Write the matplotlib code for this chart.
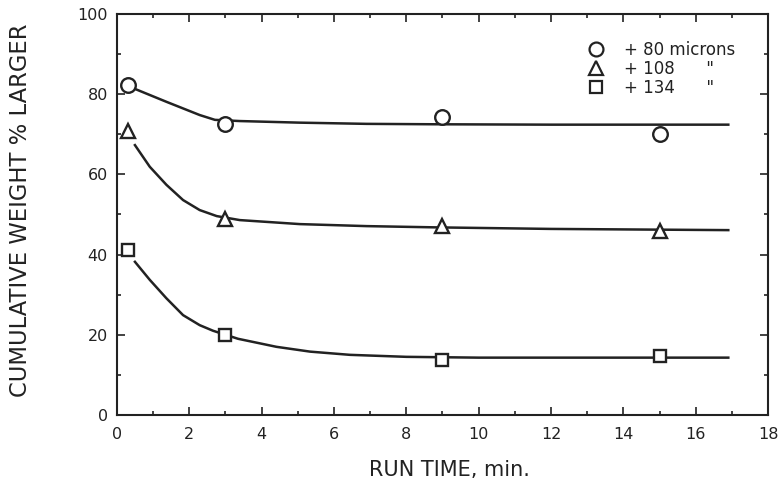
import numpy as np
import matplotlib.pyplot as plt
from matplotlib.lines import Line2D

plt.rcParams['font.family'] = ['DejaVu Sans']

# measured points (run time in min, cumulative weight % larger)
t_pts = [0.3, 3, 9, 15]
w80 = [82.3, 72.6, 74.3, 70.1]
w108 = [70.8, 48.9, 47.2, 45.8]
w134 = [41.1, 19.9, 13.6, 14.6]

# smooth fitted curves
c80_t = [0.45, 1.37, 2.29, 2.71, 3.4, 5.06, 6.9, 8.74, 12, 16.9]
c80_w = [81.5, 78.1, 74.8, 73.6, 73.3, 72.9, 72.6, 72.5, 72.4, 72.4]
c108_t = [0.5, 0.91, 1.37, 1.83, 2.29, 2.76, 3.4, 5.06, 6.9, 8.74, 12, 16.9]
c108_w = [67.3, 61.9, 57.4, 53.6, 51.1, 49.6, 48.6, 47.6, 47.1, 46.8, 46.4, 46.1]
c134_t = [0.5, 0.91, 1.37, 1.83, 2.29, 2.66, 3.35, 4.41, 5.34, 6.44, 8, 10, 16.9]
c134_w = [38.2, 33.7, 29.1, 24.9, 22.4, 21.0, 19.0, 17.0, 15.8, 15.0, 14.5, 14.3, 14.3]

labels = ['+ 80 microns', '+ 108      "', '+ 134      "']

col = '#222222'
fig = plt.figure(figsize=(7.79, 4.84), dpi=100)
ax = fig.add_axes([0.150, 0.1426, 0.836, 0.8285])

ax.plot(c80_t, c80_w, color=col, lw=1.8)
ax.plot(c108_t, c108_w, color=col, lw=1.8)
ax.plot(c134_t, c134_w, color=col, lw=1.8)

mk = dict(ls='none', mfc='white', mec=col, mew=1.7, zorder=3)
ax.plot(t_pts, w80, marker='o', ms=10.5, **mk)
ax.plot(t_pts, w108, marker='^', ms=10, **mk)
ax.plot(t_pts, w134, marker='s', ms=8.5, **mk)

ax.set_xlim(0, 18)
ax.set_ylim(0, 100)
ax.set_xticks(np.arange(0, 19, 2))
ax.set_xticks(np.arange(1, 18, 2), minor=True)
ax.set_yticks(np.arange(0, 101, 20))
ax.set_yticks(np.arange(10, 100, 20), minor=True)
ax.tick_params(which='both', direction='in', top=True, right=True,
               colors=col, labelsize=11.5, width=1.2)
ax.tick_params(which='major', length=6)
ax.tick_params(which='minor', length=3)
ax.tick_params(axis='x', which='major', pad=8.5)
ax.tick_params(axis='y', which='major', pad=6.5)
for s in ax.spines.values():
    s.set_color(col)
    s.set_linewidth(1.5)

ax.set_xlabel('RUN TIME, min.', fontsize=15, color=col)
ax.set_ylabel('CUMULATIVE WEIGHT % LARGER', fontsize=16.3, color=col)
ax.xaxis.set_label_coords(0.51, -0.112)
ax.yaxis.set_label_coords(-0.131, 0.51)

handles = [Line2D([], [], marker=m, ls='none', mfc='white', mec=col, mew=1.6, ms=s)
           for m, s in zip(['o', '^', 's'], [10, 9.5, 8.5])]
leg = ax.legend(handles, labels, loc='upper left', bbox_to_anchor=(0.705, 0.962),
                frameon=False, fontsize=12, labelspacing=0.05, handletextpad=1.2,
                handlelength=1.0, borderpad=0.2)
for t in leg.get_texts():
    t.set_color(col)

fig.savefig('out.png', dpi=100, facecolor='white')
